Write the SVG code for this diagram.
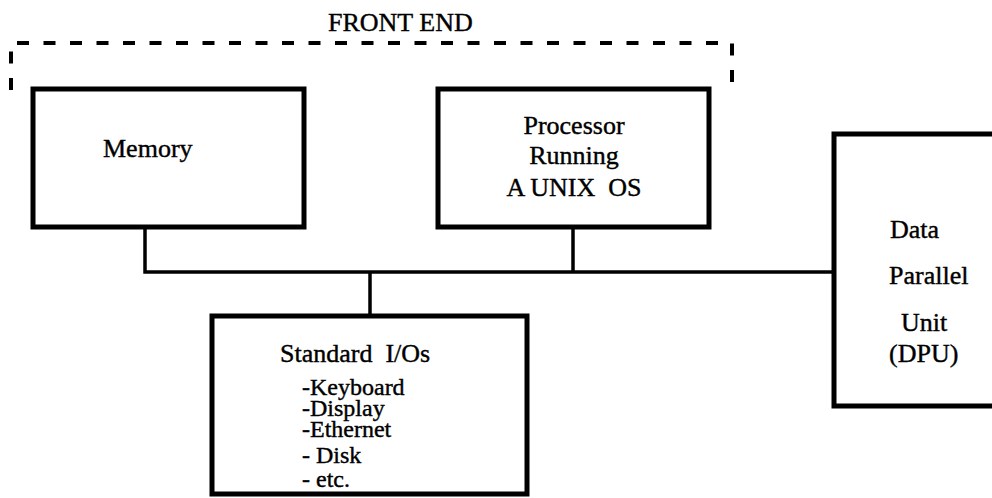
<svg xmlns="http://www.w3.org/2000/svg" width="992" height="498" viewBox="0 0 992 498">
<style>
  .box { fill: #fff; stroke: #000; stroke-width: 5; }
  .conn { fill: none; stroke: #000; stroke-width: 3.5; }
  .dash { fill: none; stroke: #000; stroke-width: 4; stroke-dasharray: 12 14.5; }
  text { font-family: "Liberation Serif", "Times New Roman", serif; font-size: 26px; fill: #000; white-space: pre; stroke: #000; stroke-width: 0.4; }
  .c { text-anchor: middle; }
  .item { font-size: 24px; }
</style>
<rect width="992" height="498" fill="#fff"/>
<g id="front-end">
  <path class="dash" d="M11 90 V43 H732 V86"/>
  <text x="328" y="31">FRONT END</text>
</g>
<g id="connectors">
  <path class="conn" d="M145 227 V272 H834"/>
  <path class="conn" d="M573 227 V272"/>
  <path class="conn" d="M370 272 V316"/>
</g>
<g id="memory">
  <rect class="box" x="33" y="89" width="271" height="138"/>
  <text x="103" y="157">Memory</text>
</g>
<g id="processor">
  <rect class="box" x="438" y="89" width="271" height="138"/>
  <text class="c" x="574" y="134">Processor</text>
  <text class="c" x="574" y="164">Running</text>
  <text class="c" x="574" y="196">A UNIX  OS</text>
</g>
<g id="dpu">
  <rect class="box" x="834" y="134" width="170" height="272"/>
  <text x="890" y="238">Data</text>
  <text x="889" y="284">Parallel</text>
  <text x="901" y="331">Unit</text>
  <text x="889" y="362">(DPU)</text>
</g>
<g id="standard-io">
  <rect class="box" x="212" y="316" width="315" height="178"/>
  <text x="280" y="362">Standard  I/Os</text>
  <text class="item" x="302" y="395">-Keyboard</text>
  <text class="item" x="302" y="416">-Display</text>
  <text class="item" x="302" y="437">-Ethernet</text>
  <text class="item" x="302" y="463">- Disk</text>
  <text class="item" x="302" y="487">- etc.</text>
</g>
</svg>
